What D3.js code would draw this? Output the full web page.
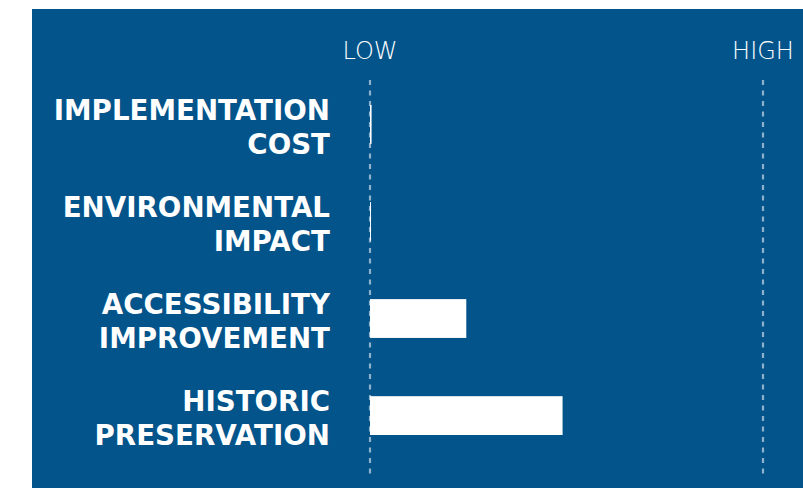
<!DOCTYPE html>
<html><head><meta charset="utf-8">
<script src="https://cdn.jsdelivr.net/npm/d3@7"></script>
<style>html,body{margin:0;padding:0;background:#fff;}svg{display:block;}</style>
</head><body>
<svg id="chart" width="803" height="488"></svg>
<script>
const categories = [["IMPLEMENTATION","COST"],["ENVIRONMENTAL","IMPACT"],["ACCESSIBILITY","IMPROVEMENT"],["HISTORIC","PRESERVATION"]];
const values = [0.4, 0.25, 24.5, 49];
const tickValues = [0, 100];
const tickLabels = ["LOW", "HIGH"];

const svg = d3.select("#chart");
const W = 803, H = 488;
svg.append("rect").attr("x",32).attr("y",9).attr("width",W-32).attr("height",H-9).attr("fill","#03548b");

const x = d3.scaleLinear().domain([0,100]).range([370,763]);
const y = d3.scaleBand().domain(d3.range(categories.length)).range([105,435]).paddingInner(0.6).paddingOuter(0);

svg.selectAll("line.grid").data(tickValues).join("line")
  .attr("class","grid")
  .attr("x1",d=>x(d)).attr("x2",d=>x(d))
  .attr("y1",80).attr("y2",476)
  .attr("stroke","#8eb1ce").attr("stroke-width",2.2)
  .attr("stroke-dasharray","5,5.5");

svg.selectAll("text.tick").data(tickValues).join("text")
  .attr("class","tick")
  .attr("x",d=>x(d)).attr("y",58.5)
  .attr("text-anchor","middle")
  .attr("fill","#ffffff")
  .attr("font-family","'DejaVu Sans', sans-serif")
  .attr("font-weight",200)
  .attr("font-size",24)
  .text((d,i)=>tickLabels[i]);

svg.selectAll("rect.bar").data(values).join("rect")
  .attr("class","bar")
  .attr("x",x(0)).attr("y",(d,i)=>y(i))
  .attr("width",d=>x(d)-x(0)).attr("height",y.bandwidth())
  .attr("fill","#ffffff");

const lab = svg.selectAll("text.lab").data(categories).join("text")
  .attr("class","lab")
  .attr("text-anchor","end")
  .attr("fill","#ffffff")
  .attr("font-family","'DejaVu Sans', sans-serif")
  .attr("font-weight",700)
  .attr("font-size",27.7);
lab.each(function(d,i){
  const c = y(i)+y.bandwidth()/2;
  const t = d3.select(this);
  t.append("tspan").attr("x",330).attr("y",c-4.5).text(d[0]);
  t.append("tspan").attr("x",330).attr("y",c+29.5).text(d[1]);
});
</script>
</body></html>
